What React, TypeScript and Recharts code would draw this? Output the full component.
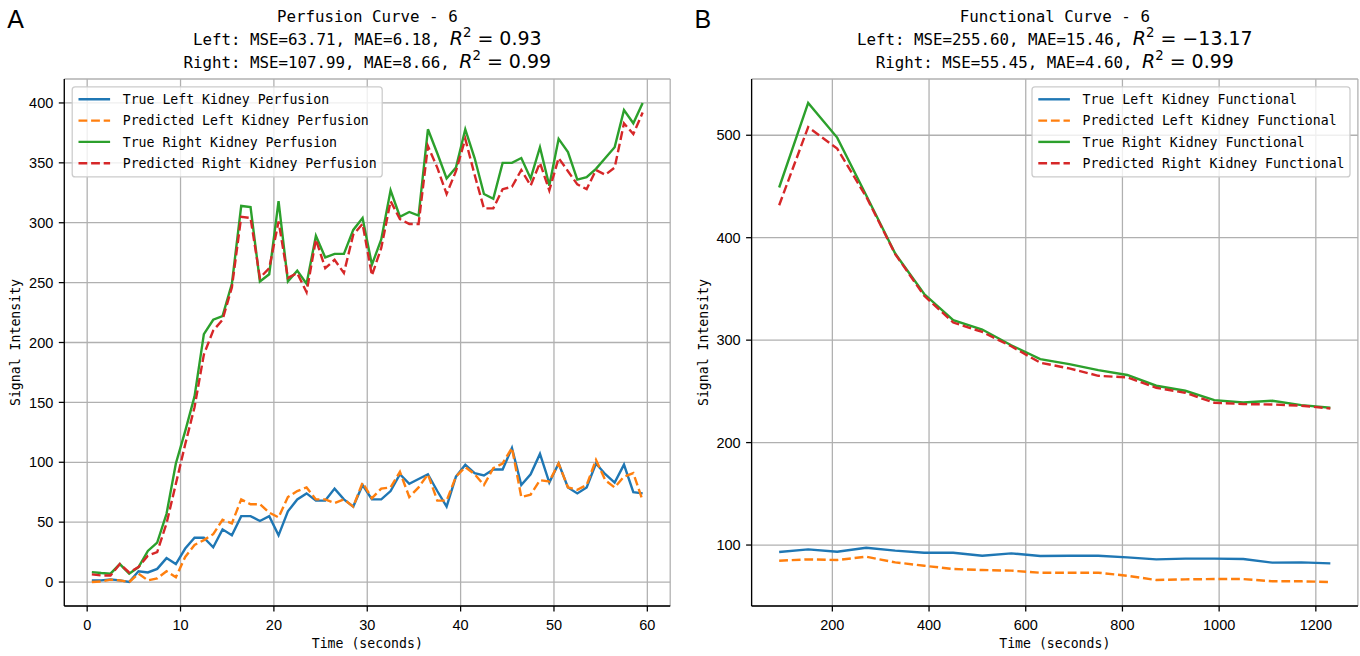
import { LineChart, Line, XAxis, YAxis, CartesianGrid } from 'recharts'

// ---- Perfusion (panel A) ----
const TIME_P = [
  0.5, 1.5, 2.5, 3.5, 4.5, 5.5, 6.5, 7.5, 8.5, 9.5,
  10.5, 11.5, 12.5, 13.5, 14.5, 15.5, 16.5, 17.5, 18.5, 19.5,
  20.5, 21.5, 22.5, 23.5, 24.5, 25.5, 26.5, 27.5, 28.5, 29.5,
  30.5, 31.5, 32.5, 33.5, 34.5, 35.5, 36.5, 37.5, 38.5, 39.5,
  40.5, 41.5, 42.5, 43.5, 44.5, 45.5, 46.5, 47.5, 48.5, 49.5,
  50.5, 51.5, 52.5, 53.5, 54.5, 55.5, 56.5, 57.5, 58.5, 59.5,
]
const TRUE_LEFT_P = [
  1.4, 1.4, 2.2, 1.4, 0, 9, 8, 11, 20, 15,
  28, 37, 37, 29, 44, 39, 55, 55, 51, 55,
  39, 59, 69, 74, 68, 68, 78, 69, 63, 81,
  69, 69, 76, 90, 82, 86, 90, 76, 63, 88,
  98, 91, 89, 94, 94, 112, 81, 90, 107, 83,
  99, 79, 74, 79, 99, 90, 83, 98, 75, 74,
]
const PRED_LEFT_P = [
  0, 0.5, 2, 1.4, 0, 7, 1.4, 3, 9, 4,
  21, 31, 35, 40, 52, 49, 69, 65, 65, 58,
  54, 71, 76, 79, 69, 69, 66, 69, 63, 83,
  70, 78, 79, 92, 71, 79, 90, 68, 68, 88,
  96, 90, 81, 95, 99, 112, 71, 73, 85, 84,
  99, 79, 77, 81, 102, 85, 79, 88, 91, 68,
]
const TRUE_RIGHT_P = [
  8.3, 7.5, 7, 15, 7, 12.5, 26, 33, 57, 99,
  126, 155, 207, 219, 222, 249, 314, 313, 251, 257,
  318, 251, 260, 249, 289, 271, 274, 274, 294, 304,
  265, 286, 327, 305, 309, 306, 378, 358, 337, 346,
  378, 354, 324, 320, 350, 350, 354, 337, 363, 331,
  370, 359, 336, 338, 345, 354, 363, 394, 383, 400,
]
const PRED_RIGHT_P = [
  6.4, 5.5, 5.5, 15, 8, 12.5, 22, 25, 49, 82,
  115, 146, 190, 210, 219, 246, 305, 304, 254, 262,
  301, 254, 258, 242, 286, 262, 269, 258, 290, 299,
  256, 279, 318, 303, 299, 299, 364, 346, 324, 343,
  370, 340, 312, 312, 328, 330, 344, 331, 350, 327,
  354, 343, 332, 328, 344, 340, 346, 383, 374, 392,
]
const X_TICKS_P = [0, 10, 20, 30, 40, 50, 60]
const Y_TICKS_P = [0, 50, 100, 150, 200, 250, 300, 350, 400]

// ---- Functional (panel B) ----
const TIME_F = [
  90, 150, 210, 270, 330, 390, 450, 510, 570, 630,
  690, 750, 810, 870, 930, 990, 1050, 1110, 1170, 1230,
]
const TRUE_LEFT_F = [
  93.2, 95.8, 93.5, 97.4, 94.5, 92.5, 92.5, 89.6, 91.9, 89.3,
  89.6, 89.6, 88, 86, 86.7, 86.7, 86.4, 82.8, 83.1, 82.1,
]
const PRED_LEFT_F = [
  84.7, 86, 85.4, 88.6, 83.1, 79.8, 76.6, 75.6, 75, 73,
  73, 73, 70, 65.9, 66.5, 66.8, 66.8, 64.6, 64.6, 63.9,
]
const TRUE_RIGHT_F = [
  449, 531.5, 497.7, 441.5, 384.5, 345, 319.5, 310.4, 295, 281.5,
  276.6, 270.7, 266, 255.5, 250.6, 241.5, 239.2, 240.8, 236.6, 234,
]
const PRED_RIGHT_F = [
  431.7, 508, 487, 440, 384, 343.3, 317.2, 308, 294, 278,
  272.4, 265.2, 263.6, 253.5, 248.6, 238.9, 237.6, 237.2, 236, 233.3,
]
const X_TICKS_F = [200, 400, 600, 800, 1000, 1200]
const Y_TICKS_F = [100, 200, 300, 400, 500]

const COLORS = ['#1f77b4', '#ff7f0e', '#2ca02c', '#d62728']
const KEYS = ['trueL', 'predL', 'trueR', 'predR']
const MONO = 'DejaVu Sans Mono'
const MATH = 'DejaVu Sans'
const SANS = 'Liberation Sans'

const perfusionData = TIME_P.map((t, i) => ({
  t,
  trueL: TRUE_LEFT_P[i],
  predL: PRED_LEFT_P[i],
  trueR: TRUE_RIGHT_P[i],
  predR: PRED_RIGHT_P[i],
}))

const functionalData = TIME_F.map((t, i) => ({
  t,
  trueL: TRUE_LEFT_F[i],
  predL: PRED_LEFT_F[i],
  trueR: TRUE_RIGHT_F[i],
  predR: PRED_RIGHT_F[i],
}))

const tickStyle = { fill: '#000', fontSize: 14.5, fontFamily: SANS }
const spine = { stroke: '#000', strokeWidth: 1.27 }

function Panel({ data, xDomain, xTicks, yDomain, yTicks, left, margin }: any) {
  return (
    <div style={{ position: 'absolute', left, top: 0 }}>
      <LineChart width={680} height={656} data={data} margin={margin}>
        <CartesianGrid stroke="#b0b0b0" strokeWidth={1.27} />
        <XAxis
          type="number"
          dataKey="t"
          domain={xDomain}
          ticks={xTicks}
          allowDataOverflow
          height={30}
          tick={tickStyle}
          tickSize={5.5}
          tickMargin={7.8}
          axisLine={spine}
          tickLine={spine}
        />
        <XAxis
          xAxisId="top"
          orientation="top"
          type="number"
          dataKey="t"
          domain={xDomain}
          allowDataOverflow
          height={0}
          tick={false}
          tickLine={false}
          axisLine={spine}
        />
        <YAxis
          type="number"
          domain={yDomain}
          ticks={yTicks}
          allowDataOverflow
          width={60}
          tick={tickStyle}
          tickSize={5.5}
          tickMargin={5.5}
          axisLine={spine}
          tickLine={spine}
        />
        <YAxis
          yAxisId="right"
          orientation="right"
          type="number"
          domain={yDomain}
          allowDataOverflow
          width={0}
          tick={false}
          tickLine={false}
          axisLine={spine}
        />
        {KEYS.map((k, i) => (
          <Line
            key={k}
            type="linear"
            dataKey={k}
            stroke={COLORS[i]}
            strokeWidth={2.4}
            strokeDasharray={i % 2 === 1 ? '8.8 3.8' : undefined}
            dot={false}
            isAnimationActive={false}
          />
        ))}
      </LineChart>
    </div>
  )
}

function TitleLine({ cx, y, text, r2 }: { cx: number; y: number; text: string; r2: string }) {
  return (
    <text x={cx} y={y} textAnchor="middle" style={{ whiteSpace: 'pre' }}>
      <tspan fontFamily={MONO} fontSize={15.8}>{text}</tspan>
      <tspan fontFamily={MATH} fontSize={19} fontStyle="italic">R</tspan>
      <tspan fontFamily={MATH} fontSize={13.3} dy={-8}>2</tspan>
      <tspan fontFamily={MATH} fontSize={19} dy={8}>{' = ' + r2}</tspan>
    </text>
  )
}

function LegendBox({ x, y, w, labels }: { x: number; y: number; w: number; labels: string[] }) {
  return (
    <g>
      <rect x={x} y={y} width={w} height={90} rx={3} fill="#fff" fillOpacity={0.8} stroke="#cccccc" strokeWidth={1.27} />
      {labels.map((lab, i) => {
        const cy = y + 12.4 + i * 21.3
        return (
          <g key={lab}>
            <line
              x1={x + 6.3}
              x2={x + 37.9}
              y1={cy}
              y2={cy}
              stroke={COLORS[i]}
              strokeWidth={2.4}
              strokeDasharray={i % 2 === 1 ? '8.8 3.8' : undefined}
            />
            <text x={x + 50.5} y={cy + 4.7} fontFamily={MONO} fontSize={13.2} fill="#000">
              {lab}
            </text>
          </g>
        )
      })}
    </g>
  )
}

export default function App() {
  return (
    <div style={{ position: 'absolute', left: 0, top: 0, width: 1360, height: 656, background: '#fff' }}>
      <Panel
        data={perfusionData}
        xDomain={[-2.45, 62.45]}
        xTicks={X_TICKS_P}
        yDomain={[-20, 420]}
        yTicks={Y_TICKS_P}
        left={0}
        margin={{ top: 79, right: 9.8, bottom: 20, left: 4.3 }}
      />
      <Panel
        data={functionalData}
        xDomain={[33, 1287]}
        xTicks={X_TICKS_F}
        yDomain={[40.5, 554.9]}
        yTicks={Y_TICKS_F}
        left={680}
        margin={{ top: 79, right: 2.1, bottom: 20, left: 11.6 }}
      />
      <svg
        width={1360}
        height={656}
        style={{ position: 'absolute', left: 0, top: 0, pointerEvents: 'none' }}
      >
        <text x={7.3} y={28.3} fontFamily={SANS} fontSize={25} fill="#000">A</text>
        <text x={694.6} y={28.3} fontFamily={SANS} fontSize={25} fill="#000">B</text>

        <text x={367.3} y={21.7} textAnchor="middle" fontFamily={MONO} fontSize={15.8}>
          Perfusion Curve - 6
        </text>
        <TitleLine cx={367.3} y={45} text="Left: MSE=63.71, MAE=6.18, " r2="0.93" />
        <TitleLine cx={367.3} y={68.3} text="Right: MSE=107.99, MAE=8.66, " r2="0.99" />

        <text x={1054.8} y={21.7} textAnchor="middle" fontFamily={MONO} fontSize={15.8}>
          Functional Curve - 6
        </text>
        <TitleLine cx={1054.8} y={45} text="Left: MSE=255.60, MAE=15.46, " r2={'\u221213.17'} />
        <TitleLine cx={1054.8} y={68.3} text="Right: MSE=55.45, MAE=4.60, " r2="0.99" />

        <text x={367.3} y={648.3} textAnchor="middle" fontFamily={MONO} fontSize={13.2}>
          Time (seconds)
        </text>
        <text x={1054.8} y={648.3} textAnchor="middle" fontFamily={MONO} fontSize={13.2}>
          Time (seconds)
        </text>
        <text
          x={20}
          y={342.5}
          transform="rotate(-90 20 342.5)"
          textAnchor="middle"
          fontFamily={MONO}
          fontSize={13.2}
        >
          Signal Intensity
        </text>
        <text
          x={707.5}
          y={342.5}
          transform="rotate(-90 707.5 342.5)"
          textAnchor="middle"
          fontFamily={MONO}
          fontSize={13.2}
        >
          Signal Intensity
        </text>

        <LegendBox
          x={72.2}
          y={86.9}
          w={310}
          labels={[
            'True Left Kidney Perfusion',
            'Predicted Left Kidney Perfusion',
            'True Right Kidney Perfusion',
            'Predicted Right Kidney Perfusion',
          ]}
        />
        <LegendBox
          x={1032}
          y={86.9}
          w={318}
          labels={[
            'True Left Kidney Functional',
            'Predicted Left Kidney Functional',
            'True Right Kidney Functional',
            'Predicted Right Kidney Functional',
          ]}
        />
      </svg>
    </div>
  )
}
